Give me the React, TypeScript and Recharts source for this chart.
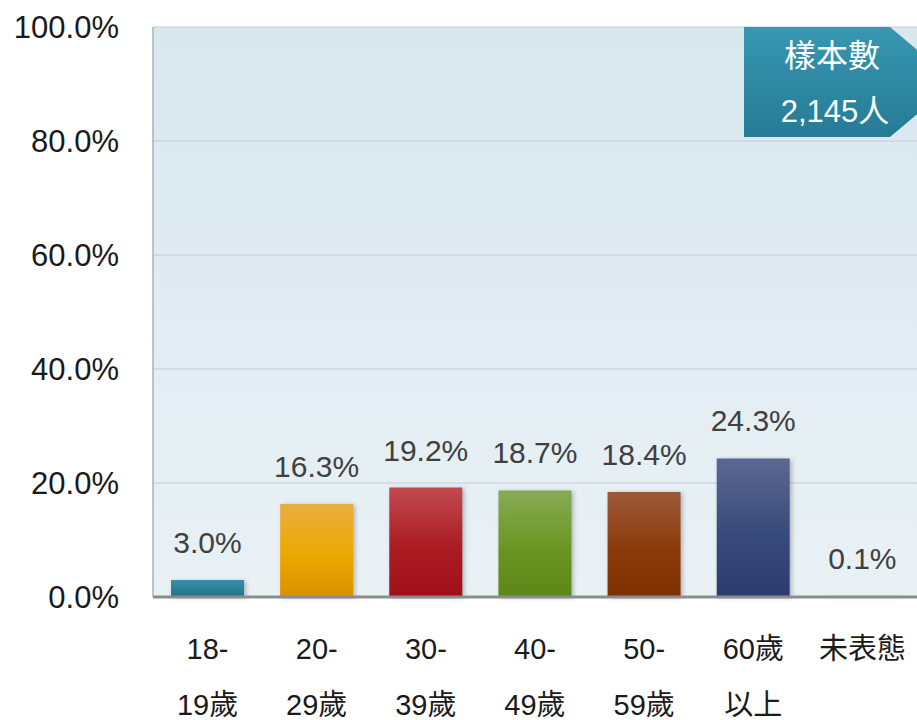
import React from 'react';
import { BarChart, Bar, XAxis, YAxis, CartesianGrid, Cell, LabelList } from 'recharts';

// 年齡層分布（樣本數 2,145 人）
const CATEGORIES = ['18-\n19歲', '20-\n29歲', '30-\n39歲', '40-\n49歲', '50-\n59歲', '60歲\n以上', '未表態'];
const SHARES = [3.0, 16.3, 19.2, 18.7, 18.4, 24.3, 0.1];
const Y_TICKS = [0, 20, 40, 60, 80, 100];
const SAMPLE_TITLE = '樣本數';
const SAMPLE_SIZE = '2,145人';

// top / middle / bottom colours of each bar gradient
const BAR_COLORS = [
  ['#3a90aa', '#2a8099', '#22728c'],
  ['#e9ae42', '#eca800', '#d89100'],
  ['#c24b50', '#aa1b22', '#9f1018'],
  ['#88aa56', '#6b9522', '#5c8716'],
  ['#9d5a3a', '#8b3a0a', '#7e3000'],
  ['#5c6892', '#384a7a', '#2d3c6f'],
  ['#7fa7b8', '#6a96aa', '#5a889e'],
];

const data = CATEGORIES.map((name, i) => ({ name, value: SHARES[i] }));

const FONT = '"Liberation Sans", Arial, "Noto Sans CJK TC", sans-serif';

function XTick({ x, y, payload }: any) {
  const lines = String(payload.value).split('\n');
  return (
    <text x={x} y={y} textAnchor="middle" fill="#1a1a1a" fontSize={29} fontFamily={FONT}>
      {lines.map((l, i) => (
        <tspan key={i} x={x} dy={i === 0 ? 60 : 56}>
          {l}
        </tspan>
      ))}
    </text>
  );
}

export default function App() {
  return (
    <div style={{ position: 'relative', width: 917, height: 720, fontFamily: FONT, background: '#fff' }}>
      <style>{'body{margin:0}'}</style>
      <svg width={0} height={0} style={{ position: 'absolute' }}>
        <defs>
          <linearGradient id="plotBg" x1="0" y1="0" x2="0" y2="1">
            <stop offset="0%" stopColor="#d9e7ef" />
            <stop offset="100%" stopColor="#e9f1f5" />
          </linearGradient>
          <linearGradient id="badgeBg" x1="0" y1="0" x2="0" y2="1">
            <stop offset="0%" stopColor="#3797b1" />
            <stop offset="100%" stopColor="#267b95" />
          </linearGradient>
          {BAR_COLORS.map((c, i) => (
            <linearGradient key={i} id={`bar${i}`} x1="0" y1="0" x2="0" y2="1">
              <stop offset="0%" stopColor={c[0]} />
              <stop offset="55%" stopColor={c[1]} />
              <stop offset="100%" stopColor={c[2]} />
            </linearGradient>
          ))}
        </defs>
      </svg>
      <BarChart width={917} height={720} data={data} margin={{ top: 27, right: 0, bottom: 0, left: 0 }}>
        <CartesianGrid vertical={false} stroke="#c3ccd3" fill="url(#plotBg)" />
        <YAxis
          type="number"
          domain={[0, 100]}
          ticks={Y_TICKS}
          width={153}
          tickLine={false}
          tickSize={0}
          tickMargin={34}
          axisLine={{ stroke: '#a9b2ba', strokeWidth: 1.5 }}
          tick={{ fill: '#1a1a1a', fontSize: 31 }}
          tickFormatter={(v: number) => `${v.toFixed(1)}%`}
        />
        <XAxis
          dataKey="name"
          height={123}
          interval={0}
          tickLine={false}
          tickSize={0}
          axisLine={{ stroke: '#8a8c8e', strokeWidth: 3 }}
          tick={<XTick />}
        />
        <Bar dataKey="value" barSize={73} isAnimationActive={false} style={{ filter: 'drop-shadow(2px 1px 2px rgba(0,0,0,0.25))' }}>
          {data.map((_, i) => (
            <Cell key={i} fill={`url(#bar${i})`} />
          ))}
          <LabelList
            dataKey="value"
            position="top"
            offset={27}
            fill="#404040"
            fontSize={30}
            formatter={(v: any) => `${Number(v).toFixed(1)}%`}
          />
        </Bar>
      </BarChart>
      <svg width={917} height={720} style={{ position: 'absolute', left: 0, top: 0, pointerEvents: 'none' }}>
        <polygon points="744,27 890,27 955,82 890,137 744,137" fill="url(#badgeBg)" />
        <text x={832} y={67} textAnchor="middle" fill="#fff" fontSize={32} fontFamily={FONT}>
          {SAMPLE_TITLE}
        </text>
        <text x={835} y={122} textAnchor="middle" fill="#fff" fontSize={31} fontFamily={FONT}>
          {SAMPLE_SIZE}
        </text>
      </svg>
    </div>
  );
}
